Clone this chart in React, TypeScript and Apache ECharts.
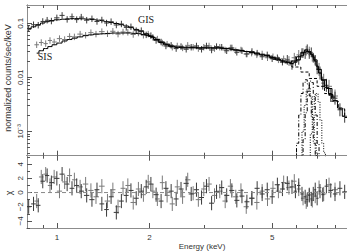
import React, { useEffect, useRef } from 'react';
import * as echarts from 'echarts';

const L = Math.log10;

// ---------------- data ----------------
const gisEnergy = [0.81, 0.84, 0.87, 0.9, 0.93, 0.96, 1.0, 1.04, 1.08, 1.12, 1.16, 1.2, 1.25, 1.3, 1.35, 1.4, 1.45, 1.5, 1.56, 1.62, 1.68, 1.74, 1.81, 1.88, 1.95, 2.02, 2.1, 2.18, 2.26, 2.35, 2.44, 2.53, 2.63, 2.73, 2.84, 2.95, 3.06, 3.18, 3.3, 3.43, 3.56, 3.7, 3.84, 3.99, 4.14, 4.3, 4.47, 4.64, 4.82, 5.0, 5.2, 5.4, 5.6, 5.8, 5.95, 6.1, 6.25, 6.4, 6.5, 6.6, 6.7, 6.8, 6.9, 7.0, 7.15, 7.3, 7.5, 7.75, 8.0, 8.3, 8.6];
const gisCounts = [0.08, 0.094, 0.092, 0.108, 0.114, 0.11, 0.126, 0.14, 0.118, 0.132, 0.117, 0.13, 0.114, 0.121, 0.108, 0.115, 0.101, 0.107, 0.093, 0.097, 0.084, 0.086, 0.073, 0.073, 0.061, 0.059, 0.048, 0.045, 0.038, 0.039, 0.034, 0.037, 0.033, 0.036, 0.038, 0.033, 0.038, 0.032, 0.037, 0.036, 0.031, 0.035, 0.029, 0.031, 0.027, 0.03, 0.028, 0.024, 0.026, 0.022, 0.023, 0.019, 0.021, 0.017, 0.02, 0.021, 0.028, 0.027, 0.033, 0.027, 0.029, 0.023, 0.021, 0.014, 0.012, 0.0078, 0.0071, 0.0046, 0.0041, 0.0025, 0.0019];
const gisModel = [0.078, 0.086, 0.094, 0.101, 0.107, 0.112, 0.116, 0.119, 0.121, 0.122, 0.122, 0.121, 0.119, 0.117, 0.114, 0.111, 0.107, 0.103, 0.099, 0.094, 0.089, 0.083, 0.077, 0.071, 0.064, 0.057, 0.05, 0.044, 0.04, 0.037, 0.036, 0.035, 0.035, 0.035, 0.035, 0.035, 0.035, 0.035, 0.035, 0.034, 0.034, 0.033, 0.032, 0.031, 0.03, 0.029, 0.027, 0.026, 0.025, 0.023, 0.022, 0.02, 0.019, 0.018, 0.019, 0.021, 0.025, 0.029, 0.03, 0.029, 0.027, 0.024, 0.02, 0.016, 0.012, 0.0088, 0.0065, 0.0048, 0.0037, 0.0027, 0.0019];
const gisResid = [-2.0, -1.6, -1.8, 1.6, 2.4, 1.4, 2.0, 2.6, 1.2, 0.6, 1.0, 0.2, -0.4, -1.0, 0.4, -1.6, -2.4, -0.6, -2.8, -1.2, -0.4, 0.3, -0.8, 0.2, 0.8, 1.2, -0.3, -1.2, 0.6, 0.2, -0.9, 0.5, 1.3, -0.2, 0.4, -0.7, 0.9, -1.5, 0.1, 0.7, -0.4, 0.3, -1.1, -0.5, -1.3, -0.8, 0.6, -0.2, 0.4, -0.6, 1.1, 0.5, 1.3, 0.8, 0.2, 1.0, -0.2, -0.6, -1.0, -0.4, -0.9, -0.2, 0.4, -0.8, 0.2, -0.3, 0.9, 0.3, -0.2, 0.6, 0.1];

const sisEnergy = [0.86, 0.89, 0.92, 0.95, 0.98, 1.02, 1.06, 1.1, 1.14, 1.19, 1.24, 1.29, 1.34, 1.4, 1.46, 1.52, 1.58, 1.64, 1.7, 1.77, 1.84, 1.91, 1.98, 2.05, 2.12, 2.2, 2.28, 2.37, 2.46, 2.56, 2.66, 2.77, 2.88, 3.0, 3.12, 3.25, 3.38, 3.52, 3.66, 3.81, 3.96, 4.12, 4.29, 4.46, 4.64, 4.83, 5.03, 5.24, 5.45, 5.67, 5.9, 6.1, 6.3, 6.45, 6.6, 6.75, 6.9, 7.1, 7.35, 7.65, 8.0];
const sisCounts = [0.04, 0.044, 0.042, 0.048, 0.045, 0.052, 0.05, 0.057, 0.056, 0.063, 0.06, 0.067, 0.063, 0.07, 0.064, 0.071, 0.063, 0.069, 0.068, 0.062, 0.066, 0.06, 0.063, 0.055, 0.051, 0.043, 0.041, 0.036, 0.038, 0.035, 0.039, 0.036, 0.034, 0.036, 0.038, 0.034, 0.036, 0.032, 0.035, 0.031, 0.032, 0.027, 0.028, 0.026, 0.027, 0.023, 0.024, 0.021, 0.022, 0.02, 0.023, 0.026, 0.028, 0.031, 0.03, 0.024, 0.02, 0.014, 0.0088, 0.0068, 0.0045];
const sisModel = [0.028, 0.031, 0.034, 0.037, 0.04, 0.043, 0.047, 0.05, 0.053, 0.056, 0.059, 0.061, 0.063, 0.064, 0.065, 0.066, 0.066, 0.066, 0.066, 0.065, 0.064, 0.062, 0.059, 0.055, 0.05, 0.045, 0.041, 0.038, 0.036, 0.036, 0.036, 0.036, 0.035, 0.035, 0.035, 0.035, 0.035, 0.034, 0.033, 0.032, 0.031, 0.03, 0.029, 0.028, 0.026, 0.025, 0.023, 0.021, 0.02, 0.019, 0.02, 0.024, 0.029, 0.032, 0.03, 0.026, 0.021, 0.014, 0.009, 0.0062, 0.0043];
const sisResid = [-1.2, 2.2, 2.6, 1.0, 2.2, 0.2, 1.5, 2.4, 1.8, 0.8, 1.2, 0.3, -0.6, 0.9, -1.2, 0.4, -2.0, 0.6, 1.0, -1.4, 0.5, -0.3, 1.5, 0.2, -0.9, 1.4, -0.4, -1.6, 0.8, -0.6, 1.8, -0.1, -1.0, 0.5, 1.2, -0.4, 0.2, -1.2, 0.9, -0.6, 0.3, -2.0, -0.8, -1.4, 0.2, -0.9, 0.6, 0.2, 1.4, 0.7, 1.6, 0.5, -0.8, -1.3, -0.3, -1.1, -0.5, 0.7, -0.2, 1.1, 0.4];

// model components (Fe line complex and continuum)
const lineAEnergy = [5.95, 6.05, 6.15, 6.25, 6.35, 6.45, 6.55, 6.65, 6.75, 6.85, 6.95];
const lineAValue = [0.0002, 0.0006, 0.002, 0.005, 0.008, 0.009, 0.0075, 0.0045, 0.0018, 0.0006, 0.0002];
const lineBEnergy = [6.25, 6.35, 6.45, 6.55, 6.65, 6.75, 6.85, 6.95, 7.05, 7.15];
const lineBValue = [0.0002, 0.0007, 0.0022, 0.0055, 0.0085, 0.008, 0.005, 0.002, 0.0006, 0.0002];
const lineCEnergy = [6.2, 6.3, 6.4, 6.5, 6.6, 6.7, 6.8, 6.9, 7.0, 7.1];
const lineCValue = [0.0003, 0.001, 0.003, 0.0058, 0.0065, 0.0045, 0.002, 0.0007, 0.0003, 0.0002];
const lineDEnergy = [6.6, 6.7, 6.8, 6.9, 7.0, 7.1, 7.2, 7.3, 7.4, 7.5];
const lineDValue = [0.0003, 0.0009, 0.0025, 0.0045, 0.005, 0.0035, 0.0016, 0.0006, 0.0004, 0.0003];
const contEnergy = [4.8, 5.2, 5.6, 6.0, 6.4, 6.8, 7.2, 7.6, 8.0, 8.4, 8.8];
const contValue = [0.025, 0.0215, 0.0185, 0.0155, 0.0125, 0.0095, 0.0068, 0.005, 0.0036, 0.0026, 0.0018];

// axes
const energyMin = 0.8;
const energyMax = 8.75;
const energyMajorTicks = [1, 2, 5];
const energyMinorTicks = [0.9, 3, 4, 6, 7, 8];
const countsMin = 3.53e-4;
const countsMax = 0.218;
const countTickValues = [0.001, 0.01, 0.1];
const countTickLabels = ['10⁻³', '0.01', '0.1'];
const residMin = -5;
const residMax = 5.2;
const residMajorTicks = [-4, -2, 0, 2, 4];
const residMinorTicks = [-5, -3, -1, 1, 3, 5];

const FONT = 'Liberation Sans, Arial, sans-serif';
const FRAME = '#8c8c8c';
const TICK = '#555';
const TEXT = '#333';

function countMinorTicks(): number[] {
  const out: number[] = [];
  [1e-4, 1e-3, 1e-2, 1e-1].forEach((d) => {
    for (let k = 2; k <= 9; k++) {
      const v = k * d;
      if (v > countsMin && v < countsMax) out.push(v);
    }
  });
  return out;
}

function crossData(energies: number[], values: number[], resid: boolean) {
  const n = energies.length;
  return energies.map((e, i) => {
    const lx = L(e);
    const prev = i > 0 ? L(energies[i - 1]) : lx - (L(energies[1]) - lx);
    const next = i < n - 1 ? L(energies[i + 1]) : lx + (lx - L(energies[n - 2]));
    const lo = (lx + prev) / 2;
    const hi = (lx + next) / 2;
    if (resid) {
      const y = values[i];
      return [lx, y, lo, hi, y - 1, y + 1];
    }
    const ly = L(values[i]);
    const dy = e > 7 ? 0.12 : e > 5.5 ? 0.09 : 0.06;
    return [lx, ly, lo, hi, ly - dy, ly + dy];
  });
}

function crossSeries(name: string, energies: number[], values: number[], color: string, xi: number, yi: number, resid: boolean) {
  return {
    name,
    type: 'custom',
    xAxisIndex: xi,
    yAxisIndex: yi,
    clip: true,
    silent: true,
    encode: { x: 0, y: 1 },
    data: crossData(energies, values, resid),
    renderItem: (params: any, api: any) => {
      const c = api.coord([api.value(0), api.value(1)]);
      const l = api.coord([api.value(2), api.value(1)]);
      const r = api.coord([api.value(3), api.value(1)]);
      const b = api.coord([api.value(0), api.value(4)]);
      const t = api.coord([api.value(0), api.value(5)]);
      const style = { stroke: color, lineWidth: 1, fill: 'none' };
      return {
        type: 'group',
        children: [
          { type: 'line', shape: { x1: l[0], y1: c[1], x2: r[0], y2: c[1] }, style },
          { type: 'line', shape: { x1: c[0], y1: b[1], x2: c[0], y2: t[1] }, style },
        ],
      };
    },
  };
}

function stepLine(name: string, energies: number[], values: number[], dash: any, width = 1) {
  return {
    name,
    type: 'line',
    xAxisIndex: 0,
    yAxisIndex: 0,
    step: 'middle',
    symbol: 'none',
    silent: true,
    data: energies.map((e, i) => [L(e), L(values[i])]),
    lineStyle: { color: '#000', width, type: dash },
    z: 3,
  };
}

function xAx(gridIndex: number, position: string, ticks: number[], len: number, labels?: number[]) {
  return {
    type: 'value',
    gridIndex,
    position,
    min: L(energyMin),
    max: L(energyMax),
    axisLine: { show: true, onZero: false, lineStyle: { color: FRAME, width: 1 } },
    axisTick: { show: true, inside: true, length: len, customValues: ticks.map(L), lineStyle: { color: TICK, width: 1 } },
    axisLabel: labels
      ? {
          show: true,
          customValues: labels.map(L),
          formatter: (v: number) => String(Math.round(Math.pow(10, v))),
          margin: 5,
          fontSize: 8,
          color: TEXT,
          fontFamily: FONT,
        }
      : { show: false },
    splitLine: { show: false },
  };
}

function yAx(gridIndex: number, min: number, max: number, ticks: number[], len: number, labels?: number[], fmt?: (v: number) => string) {
  return {
    type: 'value',
    gridIndex,
    position: 'left',
    min,
    max,
    axisLine: { show: true, onZero: false, lineStyle: { color: FRAME, width: 1 } },
    axisTick: { show: true, inside: true, length: len, customValues: ticks, lineStyle: { color: TICK, width: 1 } },
    axisLabel: labels
      ? { show: true, customValues: labels, formatter: fmt, rotate: 90, margin: 3, fontSize: 8, color: TEXT, fontFamily: FONT }
      : { show: false },
    splitLine: { show: false },
  };
}

export default function App() {
  const ref = useRef<HTMLDivElement>(null);

  useEffect(() => {
    document.body.style.margin = '0';
    if (!ref.current) return;
    const chart = echarts.init(ref.current, null, { renderer: 'svg' });

    const countFmt = (v: number) => {
      const i = countTickValues.findIndex((t) => Math.abs(L(t) - v) < 1e-6);
      return i >= 0 ? countTickLabels[i] : '';
    };
    const residFmt = (v: number) => String(Math.round(v)).replace('-', '−');

    const option: any = {
      animation: false,
      grid: [
        { left: 27, top: 5, width: 322, height: 150.7 },
        { left: 27, top: 155.7, width: 322, height: 72.3 },
      ],
      xAxis: [
        xAx(0, 'bottom', energyMinorTicks, 3),
        xAx(0, 'bottom', energyMajorTicks, 5),
        xAx(0, 'top', energyMinorTicks, 3),
        xAx(0, 'top', energyMajorTicks, 5),
        xAx(1, 'bottom', energyMinorTicks, 3),
        xAx(1, 'bottom', energyMajorTicks, 5, energyMajorTicks),
        xAx(1, 'top', energyMinorTicks, 3),
        xAx(1, 'top', energyMajorTicks, 5),
      ],
      yAxis: [
        yAx(0, L(countsMin), L(countsMax), countTickValues.map(L), 5, countTickValues.map(L), countFmt),
        yAx(0, L(countsMin), L(countsMax), countMinorTicks().map(L), 3),
        yAx(1, residMin, residMax, residMajorTicks, 5, residMajorTicks, residFmt),
        yAx(1, residMin, residMax, residMinorTicks, 3),
      ],
      series: [
        stepLine('GIS model', gisEnergy, gisModel, 'solid'),
        stepLine('SIS model', sisEnergy, sisModel, 'solid'),
        stepLine('continuum', contEnergy, contValue, [3, 2]),
        stepLine('line A', lineAEnergy, lineAValue, [4, 2, 1, 2]),
        stepLine('line B', lineBEnergy, lineBValue, [4, 2, 1, 2]),
        stepLine('line C', lineCEnergy, lineCValue, [1, 1.5]),
        stepLine('line D', lineDEnergy, lineDValue, [1, 1.5]),
        crossSeries('SIS', sisEnergy, sisCounts, '#7a7a7a', 0, 0, false),
        crossSeries('GIS', gisEnergy, gisCounts, '#3a3a3a', 0, 0, false),
        {
          name: 'zero',
          type: 'line',
          xAxisIndex: 4,
          yAxisIndex: 2,
          symbol: 'none',
          silent: true,
          data: [
            [L(energyMin), 0],
            [L(energyMax), 0],
          ],
          lineStyle: { color: '#888', width: 1, type: [4, 3] },
        },
        crossSeries('SIS resid', sisEnergy, sisResid, '#7a7a7a', 4, 2, true),
        crossSeries('GIS resid', gisEnergy, gisResid, '#3a3a3a', 4, 2, true),
      ],
      graphic: [
        { type: 'text', x: 146, y: 19, style: { text: 'GIS', font: '10px "Liberation Serif", serif', fill: '#222', align: 'center', verticalAlign: 'middle' } },
        { type: 'text', x: 45, y: 56, style: { text: 'SIS', font: '10px "Liberation Serif", serif', fill: '#222', align: 'center', verticalAlign: 'middle' } },
        { type: 'text', x: 8, y: 78, rotation: Math.PI / 2, style: { text: 'normalized counts/sec/keV', font: `9px ${FONT}`, fill: TEXT, align: 'center', verticalAlign: 'middle' } },
        { type: 'text', x: 9, y: 193, rotation: Math.PI / 2, style: { text: 'χ', font: `9px ${FONT}`, fill: TEXT, align: 'center', verticalAlign: 'middle' } },
        { type: 'text', x: 202, y: 246, style: { text: 'Energy (keV)', font: `8px ${FONT}`, fill: TEXT, align: 'center', verticalAlign: 'middle' } },
      ],
    };
    chart.setOption(option);
    return () => chart.dispose();
  }, []);

  return <div ref={ref} style={{ width: 347, height: 251 }} />;
}
